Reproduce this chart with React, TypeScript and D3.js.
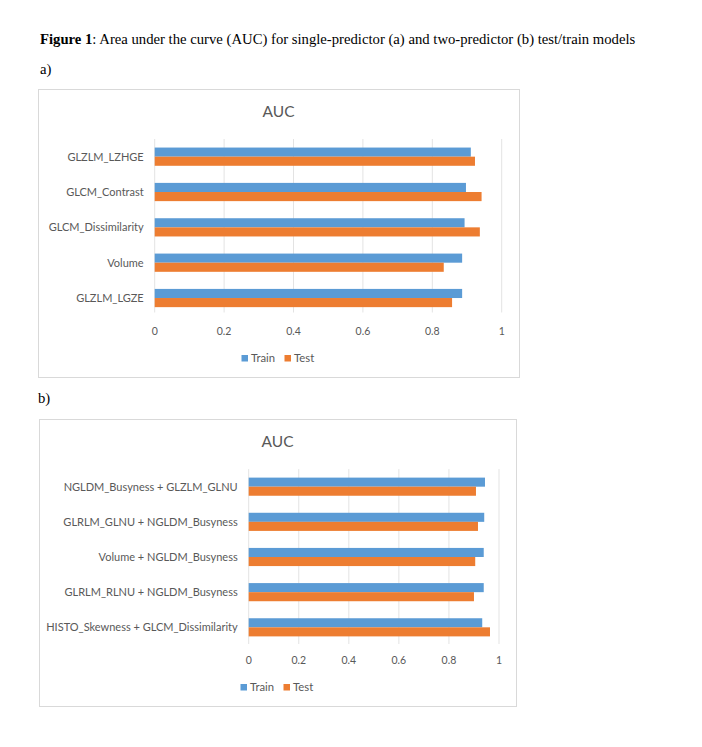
import React from "react";
import * as d3 from "d3";

const seriesNames = ["Train", "Test"];
const seriesColors = ["#5B9BD5", "#ED7D31"];
const xTicks = [0, 0.2, 0.4, 0.6, 0.8, 1];

const catsA = ["GLZLM_LZHGE", "GLCM_Contrast", "GLCM_Dissimilarity", "Volume", "GLZLM_LGZE"];
const trainA = [0.911, 0.897, 0.893, 0.886, 0.886];
const testA = [0.923, 0.942, 0.937, 0.833, 0.857];

const catsB = [
  "NGLDM_Busyness + GLZLM_GLNU",
  "GLRLM_GLNU + NGLDM_Busyness",
  "Volume + NGLDM_Busyness",
  "GLRLM_RLNU + NGLDM_Busyness",
  "HISTO_Skewness + GLCM_Dissimilarity",
];
const trainB = [0.944, 0.941, 0.939, 0.939, 0.933];
const testB = [0.908, 0.916, 0.905, 0.9, 0.964];

const FONT = "Lato, 'Open Sans', sans-serif";
const TXT = "#595959";
const SERIF = "'Liberation Serif', 'Times New Roman', serif";

type PanelProps = {
  box: { x: number; y: number; w: number; h: number };
  plot: { x0: number; x1: number; y0: number; y1: number; gy1: number };
  tickY: number;
  legY: number;
  cats: string[];
  train: number[];
  test: number[];
};

function Panel({ box, plot, tickY, legY, cats, train, test }: PanelProps) {
  const x = d3.scaleLinear().domain([0, 1]).range([plot.x0, plot.x1]);
  const y = d3.scaleBand<string>().domain(cats).range([plot.y0, plot.y1]).padding(0);
  const bw = y.bandwidth();
  const barH = bw * 0.258;
  const inner = d3.scaleBand<string>().domain(seriesNames).range([bw / 2 - barH, bw / 2 + barH]);
  const values = [train, test];
  const cx = box.x + box.w / 2;
  return (
    <g>
      <rect x={box.x + 0.5} y={box.y + 0.5} width={box.w} height={box.h} fill="#fff" stroke="#D9D9D9" />
      <text x={cx} y={plot.y0 - 22} textAnchor="middle" fontFamily={FONT} fontSize={15.5} fill={TXT}>
        AUC
      </text>
      {xTicks.map((t) => (
        <line key={t} x1={x(t)} x2={x(t)} y1={plot.y0} y2={plot.gy1} stroke="#E3E3E3" strokeWidth={1} />
      ))}
      {cats.map((c, i) => (
        <g key={c} transform={`translate(0,${y(c)})`}>
          {seriesNames.map((s, k) => (
            <rect
              key={s}
              x={x(0)}
              y={inner(s)}
              width={x(values[k][i]) - x(0)}
              height={inner.bandwidth()}
              fill={seriesColors[k]}
            />
          ))}
          <text
            x={plot.x0 - 11}
            y={bw / 2}
            dy="0.35em"
            textAnchor="end"
            fontFamily={FONT}
            fontSize={11}
            fill={TXT}
          >
            {c}
          </text>
        </g>
      ))}
      {xTicks.map((t) => (
        <text key={t} x={x(t)} y={tickY} textAnchor="middle" fontFamily={FONT} fontSize={10.5} fill={TXT}>
          {d3.format("~g")(t)}
        </text>
      ))}
      <g transform={`translate(${cx - 37},${legY})`}>
        <rect x={0} y={-7} width={6.5} height={6.5} fill={seriesColors[0]} />
        <text x={9.5} y={0} fontFamily={FONT} fontSize={11.3} fill={TXT}>Train</text>
        <rect x={43} y={-7} width={6.5} height={6.5} fill={seriesColors[1]} />
        <text x={52.5} y={0} fontFamily={FONT} fontSize={11.3} fill={TXT}>Test</text>
      </g>
    </g>
  );
}

export default function App() {
  return (
    <div style={{ position: "absolute", left: 0, top: 0 }}>
      <svg width={702} height={747} style={{ display: "block", background: "#fff" }}>
        <rect width={702} height={747} fill="#fff" />
        <text x={40} y={44} fontFamily={SERIF} fontSize={14.7} fill="#000">
          <tspan fontWeight="bold">Figure 1</tspan>
          <tspan>: Area under the curve (AUC) for single-predictor (a) and two-predictor (b) test/train models</tspan>
        </text>
        <text x={40} y={74} fontFamily={SERIF} fontSize={14.7} fill="#000">
          a)
        </text>
        <text x={38} y={403} fontFamily={SERIF} fontSize={14.7} fill="#000">
          b)
        </text>
        <Panel
          box={{ x: 38, y: 89, w: 481, h: 288 }}
          plot={{ x0: 154.7, x1: 501.7, y0: 139, y1: 315.7, gy1: 312.5 }}
          tickY={335}
          legY={362}
          cats={catsA}
          train={trainA}
          test={testA}
        />
        <Panel
          box={{ x: 39, y: 419, w: 477, h: 287 }}
          plot={{ x0: 248.7, x1: 499, y0: 469.1, y1: 644.9, gy1: 644 }}
          tickY={663.5}
          legY={691}
          cats={catsB}
          train={trainB}
          test={testB}
        />
      </svg>
    </div>
  );
}
